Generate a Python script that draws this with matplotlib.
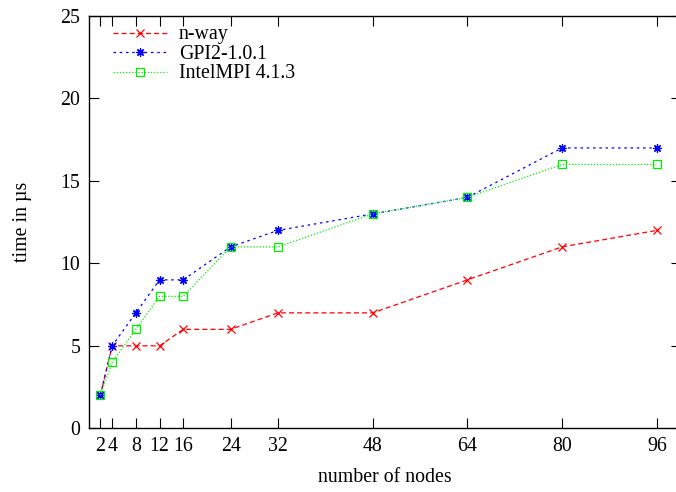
import matplotlib
matplotlib.use("Agg")
import matplotlib.pyplot as plt

nodes = [2, 4, 8, 12, 16, 24, 32, 48, 64, 80, 96]
nway = [2, 5, 5, 5, 6, 6, 7, 7, 9, 11, 12]
gpi2 = [2, 5, 7, 9, 9, 11, 12, 13, 14, 17, 17]
intelmpi = [2, 4, 6, 8, 8, 11, 11, 13, 14, 16, 16]
xtick_labels = ["2", "4", "8", "12", "16", "24", "32", "48", "64", "80", "96"]
yticks = [0, 5, 10, 15, 20, 25]

plt.rcParams['font.family'] = ['Liberation Serif', 'DejaVu Serif']
plt.rcParams['font.size'] = 14.3

fig = plt.figure(figsize=(6.76, 4.92), dpi=100)
ax = fig.add_axes([88.5/676, 1 - 428.3/492, 592/676, (428.3-16)/492])

ax.plot(nodes, nway, color='#ff0000', linestyle=(0, (4, 2.5)), linewidth=0.9,
        marker='x', markersize=5.5, markeredgewidth=0.9, label='n-way')
ax.plot(nodes, gpi2, color='#0000ff', linestyle=(0, (2, 3)), linewidth=0.9,
        marker=(8, 2, 0), markersize=6, markeredgewidth=0.9, label='GPI2-1.0.1')
ax.plot(nodes, intelmpi, color='#00ee00', linestyle=(0, (1, 1.5)), linewidth=0.9,
        marker='s', markersize=5.5, markerfacecolor='none', markeredgewidth=0.9,
        label='IntelMPI 4.1.3')

ax.set_xlim(0, 100)
ax.set_ylim(0, 25)
ax.set_xticks(nodes)
ax.set_xticklabels(xtick_labels)
ax.set_yticks(yticks)
ax.tick_params(direction='in', length=7, width=0.8, top=True, right=True, pad=6)
for s in ax.spines.values():
    s.set_linewidth(1.0)

ax.set_xlabel('number of nodes', labelpad=9)
ax.set_ylabel('time in µs', labelpad=20.5)

leg = ax.legend(loc='upper left', frameon=False, handlelength=2.7, handletextpad=0.6,
                borderaxespad=0.0, borderpad=0.3, labelspacing=0.025,
                bbox_to_anchor=(0.032, 0.9915))

fig.savefig('out.png', dpi=100)
